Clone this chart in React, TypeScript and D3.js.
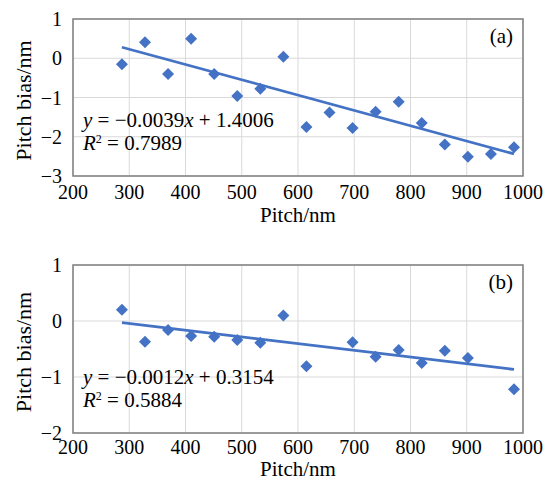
import React from "react";
import * as d3 from "d3";

const pitchA = [287, 328, 369, 410, 451, 492, 533, 574, 615, 656, 697, 738, 779, 820, 861, 902, 943, 984];
const biasA = [-0.15, 0.41, -0.4, 0.5, -0.4, -0.96, -0.78, 0.04, -1.75, -1.38, -1.78, -1.36, -1.11, -1.65, -2.2, -2.51, -2.44, -2.27];
const pitchB = [287, 328, 369, 410, 451, 492, 533, 574, 615, 697, 738, 779, 820, 861, 902, 984];
const biasB = [0.2, -0.37, -0.16, -0.27, -0.28, -0.34, -0.39, 0.1, -0.81, -0.38, -0.64, -0.52, -0.75, -0.53, -0.66, -1.22];
const xTicks = [200, 300, 400, 500, 600, 700, 800, 900, 1000];
const yTicksA = [1, 0, -1, -2, -3];
const yTicksB = [1, 0, -1, -2];
const fitA = { slope: -0.0039, intercept: 1.4006, r2: "0.7989", eq: "−0.0039", icpt: "1.4006", label: "(a)" };
const fitB = { slope: -0.0012, intercept: 0.3154, r2: "0.5884", eq: "−0.0012", icpt: "0.3154", label: "(b)" };

const FONT = "Liberation Serif, Tinos, Times New Roman, DejaVu Serif, serif";
const BLUE = "#4472C4";

function fmt(v: number) {
  return v < 0 ? "−" + Math.abs(v) : String(v);
}

function Panel({ xs, ys, yTicks, fit, top, bottom }: any) {
  const left = 73, right = 523;
  const x = d3.scaleLinear().domain([200, 1000]).range([left, right]);
  const y = d3.scaleLinear().domain([yTicks[yTicks.length - 1], yTicks[0]]).range([bottom, top]);
  const r = 6;
  const x0 = d3.min(xs as number[])!, x1 = d3.max(xs as number[])!;
  const line = d3.line<number>().x((d) => x(d)).y((d) => y(fit.slope * d + fit.intercept));
  const isA = fit.label === "(a)";
  return (
    <g>
      {xTicks.map((t) => (
        <line key={"gx" + t} x1={x(t)} x2={x(t)} y1={top} y2={bottom} stroke="#d9d9d9" strokeWidth={1} />
      ))}
      {yTicks.map((t: number) => (
        <line key={"gy" + t} x1={left} x2={right} y1={y(t)} y2={y(t)} stroke="#d9d9d9" strokeWidth={1} />
      ))}
      <rect x={left} y={top} width={right - left} height={bottom - top} fill="none" stroke="#7f7f7f" strokeWidth={1.5} />
      {xs.map((px: number, i: number) => {
        const cx = x(px), cy = y(ys[i]);
        return (
          <path key={"p" + i} d={`M${cx},${cy - r}L${cx + r},${cy}L${cx},${cy + r}L${cx - r},${cy}Z`} fill={BLUE} />
        );
      })}
      <path d={line([x0, x1]) || ""} stroke={BLUE} strokeWidth={2.75} fill="none" />
      {yTicks.map((t: number) => (
        <text key={"ty" + t} x={62} y={y(t) + 7} textAnchor="end" fontSize={20}>
          {fmt(t)}
        </text>
      ))}
      {xTicks.map((t) => (
        <text key={"tx" + t} x={x(t)} y={bottom + (isA ? 23 : 21)} textAnchor="middle" fontSize={20}>
          {t}
        </text>
      ))}
      <text x={(left + right) / 2} y={bottom + (isA ? 46 : 43)} textAnchor="middle" fontSize={21}>
        Pitch/nm
      </text>
      <text transform={`translate(31,${(top + bottom) / 2 + 3}) rotate(-90)`} textAnchor="middle" fontSize={22}>
        Pitch bias/nm
      </text>
      <text x={513} y={top + 24} textAnchor="end" fontSize={21}>
        {fit.label}
      </text>
      <text x={83} y={top + (isA ? 108 : 119)} fontSize={21}>
        <tspan fontStyle="italic">y</tspan>
        <tspan> = {fit.eq}</tspan>
        <tspan fontStyle="italic">x</tspan>
        <tspan> + {fit.icpt}</tspan>
      </text>
      <text x={83} y={top + (isA ? 131 : 142)} fontSize={21}>
        <tspan fontStyle="italic">R</tspan>
        <tspan fontSize={12} dy={-7}>2</tspan>
        <tspan dy={7}> = {fit.r2}</tspan>
      </text>
    </g>
  );
}

export default function App() {
  return (
    <svg
      width={545}
      height={487}
      style={{ display: "block", position: "absolute", left: 0, top: 0, background: "#fff", fontFamily: FONT }}
    >
      <rect width={545} height={487} fill="#fff" />
      <Panel xs={pitchA} ys={biasA} yTicks={yTicksA} fit={fitA} top={19} bottom={176} />
      <Panel xs={pitchB} ys={biasB} yTicks={yTicksB} fit={fitB} top={265} bottom={433} />
    </svg>
  );
}
